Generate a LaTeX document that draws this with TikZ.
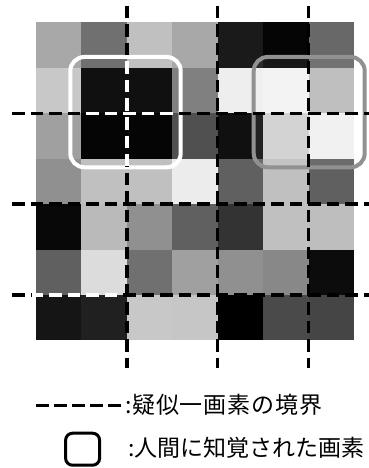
\documentclass[tikz,border=0pt]{standalone}
\usepackage{fontspec}
\newfontfamily\cjk{Noto Sans CJK JP}
\newfontfamily\cjkwide[LetterSpace=3.5]{Noto Sans CJK JP}
\begin{document}
\begin{tikzpicture}[x=1pt,y=-1pt,
  gridline/.style={line width=3.3pt, dash pattern=on 12.5pt off 6pt},
  legdash/.style={line width=3pt, dash pattern=on 13pt off 5pt},
  perceived/.style={line width=4pt, rounded corners=14pt},
  legtext/.style={anchor=west, inner sep=0pt, font=\cjk\fontsize{23}{25}\selectfont}]
\useasboundingbox (0,0) rectangle (369,468);
% cells
\foreach \row/\vals in {
  0/{168,112,192,168,26,5,104},
  1/{200,16,16,128,238,242,186},
  2/{160,5,5,80,16,208,240},
  3/{144,192,192,236,96,192,96},
  4/{8,186,144,96,51,192,190},
  5/{96,220,112,160,144,136,12},
  6/{21,32,200,198,0,74,69}} {
  \foreach \v [count=\c from 0] in \vals {
    \fill[fill={rgb,255:red,\v;green,\v;blue,\v}]
      (36+\c*45.43, 22.5+\row*45.4) rectangle +(45.43,45.4);
  }
}
% perceived pixels
\draw[perceived, white] (70.3,57) rectangle (180.7,167.3);
\draw[perceived, draw={rgb,255:red,145;green,145;blue,145}, fill=white, fill opacity=0.08]
  (253.7,57) rectangle (364.7,167.3);
% pseudo-pixel boundaries
\foreach \xx in {126.86,217.72,308.58}
  \draw[gridline] (\xx,6) -- (\xx,368);
\foreach \yy in {113.3,204.1,294.9}
  \draw[gridline] (12,\yy) -- (369,\yy);
% white parts over dark cells
\begin{scope}
  \clip (80,100) rectangle (173,126);
  \draw[gridline, white] (12,113.3) -- (369,113.3);
\end{scope}
\begin{scope}
  \clip (112,58) rectangle (142,165);
  \draw[gridline, white] (126.86,6) -- (126.86,368);
\end{scope}
\begin{scope}
  \clip (32,284) rectangle (122,306);
  \draw[gridline, white] (12,294.9) -- (369,294.9);
\end{scope}
% legend
\coordinate (l1a) at (36,405);
\coordinate (l1b) at (124,405);
\draw[legdash] (l1a) -- (l1b);
\node[legtext, font=\cjkwide\fontsize{23}{25}\selectfont] (t1) at (125,405) {:疑似一画素の境界};
\node[draw, line width=3pt, rounded corners=7pt, minimum width=34pt, minimum height=32pt, inner sep=0pt] (icon) at (82.6,449.2) {};
\node[legtext] (t2) at (128,448) {:人間に知覚された画素};
\end{tikzpicture}
\end{document}
